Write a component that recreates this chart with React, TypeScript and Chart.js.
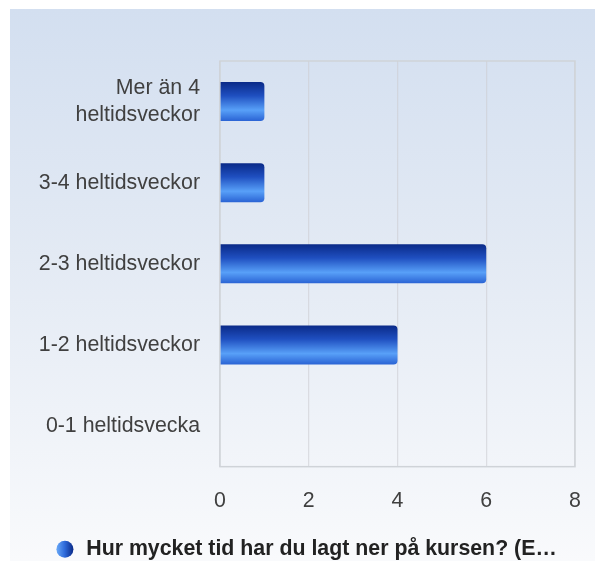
import React, { useEffect, useRef } from "react";
import { Chart, registerables } from "chart.js";

Chart.register(...registerables);

const categories: (string | string[])[] = [
  ["Mer än 4", "heltidsveckor"],
  "3-4 heltidsveckor",
  "2-3 heltidsveckor",
  "1-2 heltidsveckor",
  "0-1 heltidsvecka",
];
const values: number[] = [1, 1, 6, 4, 0];
const seriesLabel = "Hur mycket tid har du lagt ner på kursen? (E…";
const xMin = 0;
const xMax = 8;
const xStep = 2;

const FONT = "'Liberation Sans', Arial, Helvetica, sans-serif";
const FS = 21.33;

export default function App() {
  const ref = useRef<HTMLCanvasElement | null>(null);

  useEffect(() => {
    const canvas = ref.current;
    if (!canvas) return;

    const barFill = (ctx: any) => {
      const chart = ctx.chart;
      const yScale = chart.scales?.y;
      if (!yScale || ctx.type !== "data") return "#2f6ee0";
      const center = yScale.getPixelForValue(ctx.dataIndex);
      const cat = yScale.height / categories.length;
      const h = cat * 0.8 * 0.6;
      if (!isFinite(center) || !isFinite(h) || h <= 0) return "#2f6ee0";
      const g = chart.ctx.createLinearGradient(0, center - h / 2, 0, center + h / 2);
      g.addColorStop(0, "#0a2a88");
      g.addColorStop(0.35, "#1f4fc0");
      g.addColorStop(0.72, "#58a0f8");
      g.addColorStop(1, "#2a63d4");
      return g;
    };

    const legendGradient = {
      id: "legendGradient",
      afterUpdate(chart: any) {
        const lg = chart.legend;
        if (!lg || !lg.legendItems || !lg.legendHitBoxes || !lg.legendHitBoxes[0]) return;
        const hb = lg.legendHitBoxes[0];
        if (!isFinite(hb.left)) return;
        const g = chart.ctx.createLinearGradient(hb.left + 2, 0, hb.left + 19, 0);
        g.addColorStop(0, "#6aaaf8");
        g.addColorStop(0.5, "#2e6ada");
        g.addColorStop(1, "#0a2a88");
        lg.legendItems[0].fillStyle = g;
        lg.legendItems[0].strokeStyle = "rgba(0,0,0,0)";
        lg.legendItems[0].lineWidth = 0;
      },
    };

    const frame = {
      id: "frame",
      beforeDatasetsDraw(chart: any) {
        const { ctx, chartArea } = chart;
        ctx.save();
        ctx.strokeStyle = "#cfd3d8";
        ctx.lineWidth = 1.5;
        ctx.strokeRect(chartArea.left, chartArea.top, chartArea.right - chartArea.left, chartArea.bottom - chartArea.top);
        ctx.restore();
      },
    };

    const chart = new Chart(canvas, {
      type: "bar",
      data: {
        labels: categories,
        datasets: [
          {
            label: seriesLabel,
            data: values,
            backgroundColor: barFill,
            borderWidth: 0,
            borderRadius: 4,
            borderSkipped: "start",
            barPercentage: 0.8,
            categoryPercentage: 0.6,
          },
        ],
      },
      options: {
        indexAxis: "y",
        responsive: false,
        animation: false,
        layout: { padding: { top: 52, right: 20, left: 26, bottom: 0 } },
        scales: {
          x: {
            min: xMin,
            max: xMax,
            ticks: {
              stepSize: xStep,
              padding: 0,
              color: "#404040",
              font: { family: FONT, size: FS },
            },
            grid: {
              color: "rgba(205,205,210,0.6)",
              lineWidth: 1.2,
              drawTicks: true,
              tickLength: 22,
              tickColor: "rgba(0,0,0,0)",
            },
            border: { display: false },
            afterFit: (s: any) => {
              s.height = 62;
            },
          },
          y: {
            ticks: {
              padding: 20,
              color: "#404040",
              font: { family: FONT, size: FS, lineHeight: 1.27 },
            },
            grid: { display: false, drawTicks: false },
            border: { display: false },
            afterFit: (s: any) => {
              s.width = 184;
            },
          },
        },
        plugins: {
          legend: {
            position: "bottom",
            labels: {
              usePointStyle: true,
              pointStyle: "circle",
              boxHeight: 12,
              padding: 10,
              color: "#222222",
              font: { family: FONT, size: FS, weight: "bold" },
            },
          },
          tooltip: { enabled: false },
        },
      },
      plugins: [legendGradient, frame],
    } as any);

    return () => chart.destroy();
  }, []);

  return (
    <div
      style={{
        position: "fixed",
        left: 10,
        top: 9,
        width: 585,
        height: 552,
        overflow: "hidden",
        background: "linear-gradient(to bottom, #d3dff0 0%, #e3eaf4 45%, #f9fafc 100%)",
      }}
    >
      <canvas ref={ref} width={585} height={561} style={{ display: "block" }} />
    </div>
  );
}
